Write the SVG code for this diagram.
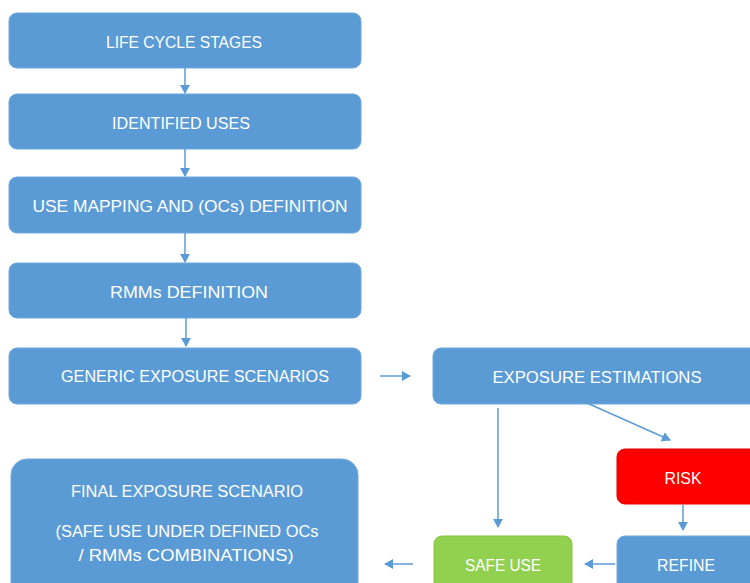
<svg xmlns="http://www.w3.org/2000/svg" width="750" height="583" viewBox="0 0 750 583">
<defs>
<marker id="ah" markerWidth="10" markerHeight="10" refX="8" refY="5" orient="auto" markerUnits="userSpaceOnUse">
<path d="M0,0 L9,5 L0,10 Z" fill="#5B9BD5"/>
</marker>
</defs>
<style>
.box{fill:#5B9BD5;stroke:#6FA8DC;stroke-width:1}
.red{fill:#FF0000;stroke:#E00000;stroke-width:1}
.green{fill:#92D050;stroke:#86C43F;stroke-width:1}
.t{font-family:"Liberation Sans",Arial,sans-serif;font-size:16px;fill:#FFFFFF;text-anchor:middle}
.c{stroke:#5B9BD5;stroke-width:1.5;fill:none;marker-end:url(#ah)}
</style>
<rect width="750" height="583" fill="#FFFFFF"/>
<g id="n1"><rect class="box" x="9" y="13" width="352" height="55" rx="8"/><text class="t" x="184" y="48" textLength="156" lengthAdjust="spacingAndGlyphs">LIFE CYCLE STAGES</text></g>
<g id="n2"><rect class="box" x="9" y="94" width="352" height="55" rx="8"/><text class="t" x="181" y="129" textLength="138" lengthAdjust="spacingAndGlyphs">IDENTIFIED USES</text></g>
<g id="n3"><rect class="box" x="9" y="177" width="352" height="56" rx="8"/><text class="t" x="190" y="212" textLength="315" lengthAdjust="spacingAndGlyphs">USE MAPPING AND (OCs) DEFINITION</text></g>
<g id="n4"><rect class="box" x="9" y="263" width="352" height="55" rx="8"/><text class="t" x="189" y="298" textLength="158" lengthAdjust="spacingAndGlyphs">RMMs DEFINITION</text></g>
<g id="n5"><rect class="box" x="9" y="348" width="352" height="56" rx="8"/><text class="t" x="195" y="382" textLength="268" lengthAdjust="spacingAndGlyphs">GENERIC EXPOSURE SCENARIOS</text></g>
<g id="n6"><rect class="box" x="433" y="348" width="330" height="56" rx="8"/><text class="t" x="597" y="383" textLength="209" lengthAdjust="spacingAndGlyphs">EXPOSURE ESTIMATIONS</text></g>
<g id="n7"><rect class="red" x="617" y="449" width="146" height="55" rx="8"/><text class="t" x="683" y="484" textLength="37" lengthAdjust="spacingAndGlyphs">RISK</text></g>
<g id="n8"><rect class="green" x="434" y="536" width="138" height="60" rx="8"/><text class="t" x="503" y="571" textLength="76" lengthAdjust="spacingAndGlyphs">SAFE USE</text></g>
<g id="n9"><rect class="box" x="617" y="536" width="146" height="60" rx="8"/><text class="t" x="686" y="571" textLength="58" lengthAdjust="spacingAndGlyphs">REFINE</text></g>
<g id="n10"><rect class="box" x="11" y="459" width="347" height="140" rx="16"/>
<text class="t" x="187" y="497" textLength="232" lengthAdjust="spacingAndGlyphs">FINAL EXPOSURE SCENARIO</text>
<text class="t" x="187" y="537" textLength="263" lengthAdjust="spacingAndGlyphs">(SAFE USE UNDER DEFINED OCs</text>
<text class="t" x="186" y="561" textLength="215" lengthAdjust="spacingAndGlyphs">/ RMMs COMBINATIONS)</text>
</g>
<g id="connectors">
<line class="c" x1="185" y1="68" x2="185" y2="93"/>
<line class="c" x1="185" y1="149" x2="185" y2="176"/>
<line class="c" x1="185" y1="233" x2="185" y2="262"/>
<line class="c" x1="186" y1="318" x2="186" y2="346"/>
<line class="c" x1="380" y1="376" x2="410" y2="376"/>
<line class="c" x1="498" y1="408" x2="498" y2="527"/>
<line class="c" x1="587" y1="403" x2="670" y2="440"/>
<line class="c" x1="683" y1="505" x2="683" y2="530"/>
<line class="c" x1="615" y1="564" x2="585" y2="564"/>
<line class="c" x1="413" y1="564" x2="385" y2="564"/>
</g>
</svg>
